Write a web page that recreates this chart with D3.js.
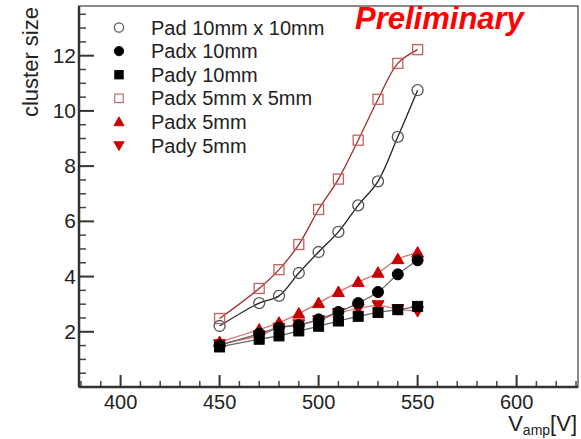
<!DOCTYPE html>
<html>
<head>
<style>
  body { margin: 0; background: #fff; }
  text { font-family: "Liberation Sans", Arial, sans-serif; }
</style>
</head>
<body>
<svg id="svg" width="581" height="439"></svg>
<script src="https://d3js.org/d3.v7.min.js"></script>
<script>
// voltages (V_amp)
const vamp = [450, 470, 480, 490, 500, 510, 520, 530, 540, 550]

// cluster size per series
const pad10 = [2.21, 3.04, 3.30, 4.13, 4.89, 5.62, 6.58, 7.45, 9.06, 10.75]
const padx10 = [1.51, 1.93, 2.15, 2.24, 2.45, 2.72, 3.04, 3.44, 4.08, 4.59]
const pady10 = [1.45, 1.73, 1.85, 2.03, 2.20, 2.39, 2.56, 2.70, 2.80, 2.92]
const pad5 = [2.48, 3.57, 4.25, 5.16, 6.43, 7.53, 8.94, 10.42, 11.72, 12.22]
const padx5 = [1.63, 2.08, 2.33, 2.66, 3.04, 3.44, 3.80, 4.14, 4.63, 4.87]
const pady5 = [1.55, 1.87, 2.15, 2.27, 2.42, 2.68, 2.84, 2.96, 2.82, 2.75]

const legendNames = ['Pad 10mm x 10mm', 'Padx 10mm', 'Pady 10mm', 'Padx 5mm x 5mm', 'Padx 5mm', 'Pady 5mm']
const xTicks = [400, 450, 500, 550, 600]
const yTicks = [2, 4, 6, 8, 10, 12]

const series = [
  { name: legendNames[0], values: pad10, shape: 'circle', fill: 'none', stroke: '#555', line: '#222' },
  { name: legendNames[1], values: padx10, shape: 'circle', fill: '#000', stroke: '#000', line: '#666' },
  { name: legendNames[2], values: pady10, shape: 'square', fill: '#000', stroke: '#000', line: '#666' },
  { name: legendNames[3], values: pad5, shape: 'square', fill: 'none', stroke: '#c46060', line: '#a52a2a' },
  { name: legendNames[4], values: padx5, shape: 'up', fill: '#c80000', stroke: '#c80000', line: '#d87070' },
  { name: legendNames[5], values: pady5, shape: 'down', fill: '#c80000', stroke: '#c80000', line: '#d87070' }
]

const svg = d3.select('#svg')
const mLeft = 79, mRight = 578, mTop = 6, mBottom = 387

const x = d3.scaleLinear().domain([379, 631]).range([mLeft, mRight])
const y = d3.scaleLinear().domain([0, 13.8]).range([mBottom, mTop])

// frame
svg.append('rect')
  .attr('x', mLeft).attr('y', mTop)
  .attr('width', mRight - mLeft).attr('height', mBottom - mTop)
  .attr('fill', 'none').attr('stroke', '#666').attr('stroke-width', 1.5)

// y axis, ticks inside
const yAxis = svg.append('g')
yAxis.selectAll('line.minor')
  .data(d3.range(0.5, 13.8, 0.5).filter(v => v % 2 !== 0))
  .join('line')
  .attr('x1', mLeft).attr('x2', mLeft + 7)
  .attr('y1', d => y(d)).attr('y2', d => y(d))
  .attr('stroke', '#444').attr('stroke-width', 1.5)
yAxis.selectAll('line.major')
  .data(yTicks)
  .join('line')
  .attr('x1', mLeft).attr('x2', mLeft + 15)
  .attr('y1', d => y(d)).attr('y2', d => y(d))
  .attr('stroke', '#333').attr('stroke-width', 2)
yAxis.selectAll('text')
  .data(yTicks)
  .join('text')
  .attr('x', mLeft - 3).attr('y', d => y(d) + 7)
  .attr('text-anchor', 'end')
  .attr('font-size', 21)
  .attr('fill', '#222')
  .text(d => d)
yAxis.append('line')
  .attr('x1', mLeft).attr('x2', mLeft).attr('y1', mTop).attr('y2', mBottom)
  .attr('stroke', '#333').attr('stroke-width', 2.5)

// x axis, ticks inside
const xAxis = svg.append('g')
xAxis.selectAll('line.minor')
  .data(d3.range(380, 631, 10).filter(v => v % 50 !== 0))
  .join('line')
  .attr('x1', d => x(d)).attr('x2', d => x(d))
  .attr('y1', mBottom).attr('y2', mBottom - 6)
  .attr('stroke', '#444').attr('stroke-width', 1.5)
xAxis.selectAll('line.major')
  .data(xTicks)
  .join('line')
  .attr('x1', d => x(d)).attr('x2', d => x(d))
  .attr('y1', mBottom).attr('y2', mBottom - 12)
  .attr('stroke', '#333').attr('stroke-width', 2)
xAxis.selectAll('text')
  .data(xTicks)
  .join('text')
  .attr('x', d => x(d)).attr('y', mBottom + 22)
  .attr('text-anchor', 'middle')
  .attr('font-size', 20)
  .attr('fill', '#222')
  .text(d => d)
xAxis.append('line')
  .attr('x1', mLeft).attr('x2', mRight).attr('y1', mBottom).attr('y2', mBottom)
  .attr('stroke', '#333').attr('stroke-width', 2.5)

// axis titles
svg.append('text')
  .attr('transform', `translate(38, 7) rotate(-90)`)
  .attr('text-anchor', 'end')
  .attr('font-size', 22)
  .attr('fill', '#222')
  .text('cluster size')

const xt = svg.append('text')
  .attr('x', 577).attr('y', 431)
  .attr('text-anchor', 'end')
  .attr('font-size', 22)
  .attr('fill', '#222')
xt.append('tspan').text('V')
xt.append('tspan').attr('font-size', 14).attr('dy', 4).text('amp')
xt.append('tspan').attr('dy', -4).text('[V]')

// marker drawing
function marker(sel, shape, fill, stroke) {
  if (shape === 'circle') {
    sel.append('circle').attr('r', 5.5)
  } else if (shape === 'square') {
    sel.append('rect').attr('x', -5).attr('y', -5).attr('width', 10).attr('height', 10)
  } else if (shape === 'up') {
    sel.append('path').attr('d', 'M0,-6L6,4.5L-6,4.5Z')
  } else {
    sel.append('path').attr('d', 'M0,6L6,-4.5L-6,-4.5Z')
  }
  sel.selectAll('*')
    .attr('fill', fill === 'none' ? 'none' : fill)
    .attr('stroke', stroke).attr('stroke-width', fill === 'none' ? 1.3 : 1)
}

const line = d3.line()
  .x((d, i) => x(vamp[i]))
  .y(d => y(d))
  .curve(d3.curveCatmullRom)

// draw lines first, then markers (black series over red)
const order = [3, 0, 4, 5, 1, 2]
order.forEach(k => {
  const s = series[k]
  svg.append('path')
    .attr('d', line(s.values))
    .attr('fill', 'none')
    .attr('stroke', s.line)
    .attr('stroke-width', 1.3)
})
order.forEach(k => {
  const s = series[k]
  svg.append('g').selectAll('g')
    .data(s.values)
    .join('g')
    .attr('transform', (d, i) => `translate(${x(vamp[i])}, ${y(d)})`)
    .each(function () { marker(d3.select(this), s.shape, s.fill, s.stroke) })
})

// legend
const legend = svg.append('g')
series.forEach((s, i) => {
  const row = legend.append('g').attr('transform', `translate(119, ${27.5 + i * 23.6})`)
  const m = row.append('g').attr('transform', 'scale(0.85)')
  marker(m, s.shape, s.fill, s.stroke)
  row.append('text')
    .attr('x', 32).attr('y', 7)
    .attr('font-size', 20)
    .attr('fill', '#222')
    .text(s.name)
})

// preliminary label
svg.append('text')
  .attr('x', 355).attr('y', 29)
  .attr('font-size', 31)
  .attr('font-weight', 'bold')
  .attr('font-style', 'italic')
  .attr('fill', '#ff0000')
  .text('Preliminary')
</script>
</body>
</html>
